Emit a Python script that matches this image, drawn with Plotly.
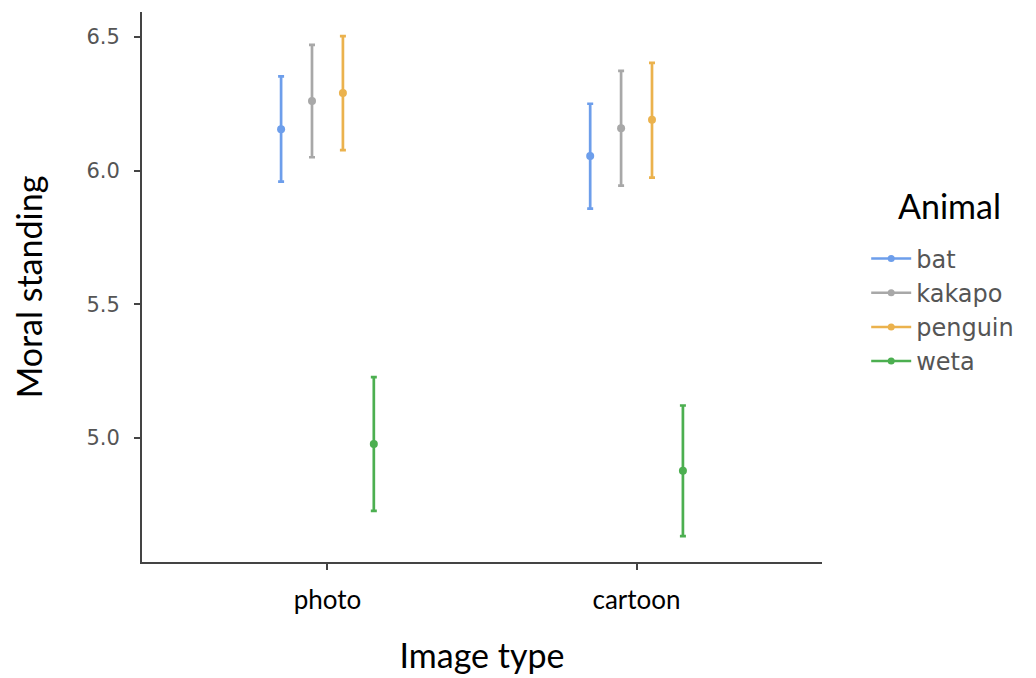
import plotly.graph_objects as go

# ---- data ----
image_types = ["photo", "cartoon"]
animals = ["bat", "kakapo", "penguin", "weta"]
colors = ["#6d9eeb", "#a8a8a8", "#ebb24d", "#4caf50"]

means = {
    "bat":     [6.155, 6.055],
    "kakapo":  [6.260, 6.158],
    "penguin": [6.290, 6.190],
    "weta":    [4.978, 4.878],
}
upper = {
    "bat":     [6.352, 6.250],
    "kakapo":  [6.470, 6.373],
    "penguin": [6.503, 6.403],
    "weta":    [5.228, 5.122],
}
lower = {
    "bat":     [5.959, 5.858],
    "kakapo":  [6.050, 5.944],
    "penguin": [6.077, 5.974],
    "weta":    [4.728, 4.634],
}

y_ticks = [5.0, 5.5, 6.0, 6.5]
dodge = 0.4

fig = go.Figure()
n = len(animals)
for i, a in enumerate(animals):
    off = (i - (n - 1) / 2) * dodge / n
    xs = [k + 1 + off for k in range(len(image_types))]
    m = means[a]
    fig.add_trace(go.Scatter(
        x=xs, y=m, mode="markers", name=a, showlegend=False,
        marker=dict(color=colors[i], size=8),
        error_y=dict(type="data", symmetric=False,
                     array=[u - v for u, v in zip(upper[a], m)],
                     arrayminus=[v - l for v, l in zip(m, lower[a])],
                     color=colors[i], thickness=2.7, width=3),
    ))

# legend entries (line + point glyph)
for i, a in enumerate(animals):
    fig.add_trace(go.Scatter(
        x=[None], y=[None], mode="lines+markers", name=a,
        line=dict(color=colors[i], width=2.5),
        marker=dict(color=colors[i], size=7),
    ))

fig.update_layout(
    width=1036, height=678,
    margin=dict(l=134, r=222, t=4, b=124),
    paper_bgcolor="white", plot_bgcolor="white",
    showlegend=True,
    legend=dict(
        font=dict(family="DejaVu Sans", size=24, color="#555555"),
        x=1.065, xanchor="left", y=0.592, yanchor="top",
        bgcolor="rgba(0,0,0,0)", itemwidth=40,
    ),
    annotations=[dict(
        text="Animal", xref="paper", yref="paper", x=1.188, y=0.649,
        xanchor="center", yanchor="middle", showarrow=False,
        font=dict(family="Lato", size=34, color="black"),
    )],
    xaxis=dict(
        range=[0.4, 2.6],
        tickvals=[k + 1 for k in range(len(image_types))],
        ticktext=image_types,
        showline=True, linecolor="#444444", linewidth=2,
        ticks="outside", ticklen=6, tickwidth=2, tickcolor="#444444",
        showgrid=False, zeroline=False,
        tickfont=dict(family="Lato", size=26, color="black"),
        ticklabelstandoff=8,
        title=dict(text="Image type", font=dict(family="Lato", size=34, color="black"),
                   standoff=30),
    ),
    yaxis=dict(
        range=[4.537, 6.593],
        tickvals=y_ticks,
        ticktext=[f"{v:.1f}" for v in y_ticks],
        showline=True, linecolor="#444444", linewidth=2,
        ticks="outside", ticklen=6, tickwidth=2, tickcolor="#444444",
        showgrid=False, zeroline=False,
        tickfont=dict(family="DejaVu Sans", size=21, color="#555555"),
        ticklabelstandoff=10,
        title=dict(text="Moral standing", font=dict(family="Lato", size=34, color="black"),
                   standoff=42),
    ),
)

fig.write_html("out.html")
